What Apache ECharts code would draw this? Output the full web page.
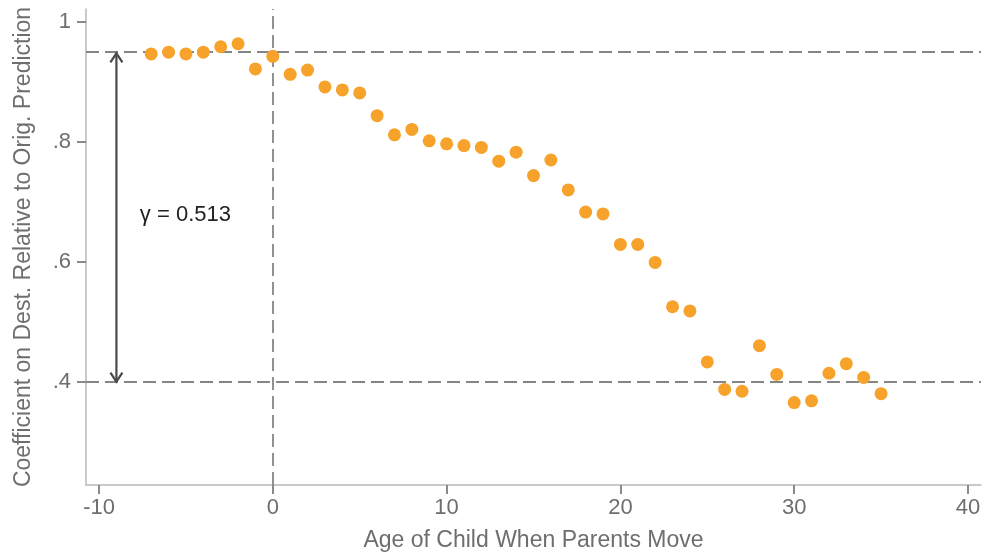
<!DOCTYPE html>
<html>
<head>
<meta charset="utf-8">
<script src="https://cdn.jsdelivr.net/npm/echarts@6/dist/echarts.min.js"></script>
<style>
html,body{margin:0;padding:0;background:#fff;}
#chart{width:984px;height:556px;}
</style>
</head>
<body>
<div id="chart"></div>
<script>
// ---- data ----
var ages = [-7,-6,-5,-4,-3,-2,-1,0,1,2,3,4,5,6,7,8,9,10,11,12,13,14,15,16,17,18,19,20,21,22,23,24,25,26,27,28,29,30,31,32,33,34,35];
var coefs = [0.947,0.950,0.947,0.950,0.959,0.964,0.922,0.943,0.913,0.920,0.892,0.887,0.882,0.844,0.812,0.821,0.802,0.797,0.794,0.791,0.768,0.783,0.744,0.770,0.720,0.683,0.680,0.629,0.629,0.599,0.525,0.518,0.433,0.387,0.384,0.460,0.412,0.365,0.368,0.414,0.430,0.407,0.380];
var xTicks = [-10, 0, 10, 20, 30, 40];
var yTicks = [0.4, 0.6, 0.8, 1.0];
var yTickLabels = ['.4', '.6', '.8', '1'];
var refYValues = [0.948, 0.4];
var refXValues = [0];
var arrowX = -9;
var arrowFrom = 0.4;
var arrowTo = 0.948;
var annotationText = 'γ = 0.513';
var annotationPos = [-7.65, 0.678];
var xTitle = 'Age of Child When Parents Move';
var yTitle = 'Coefficient on Dest. Relative to Orig. Prediction';

var X_MIN = -10.75, X_MAX = 40.75, Y_MIN = 0.2275, Y_MAX = 1.022;
var FONT = '"Liberation Sans", Arial, Helvetica, sans-serif';
var chart = echarts.init(document.getElementById('chart'), null, {renderer: 'canvas'});

var points = ages.map(function (a, i) { return [a, coefs[i]]; });

var markData = [];
refYValues.forEach(function (v) { markData.push({yAxis: v}); });
refXValues.forEach(function (v) { markData.push({xAxis: v}); });

var option = {
  animation: false,
  backgroundColor: '#ffffff',
  grid: {left: 86, right: 3, top: 9, bottom: 71, containLabel: false, outerBoundsMode: 'none'},
  xAxis: {
    type: 'value',
    min: X_MIN,
    max: X_MAX,
    name: xTitle,
    nameLocation: 'middle',
    nameGap: 44,
    nameTextStyle: {color: '#6e6e6e', fontSize: 23, fontFamily: FONT},
    axisLine: {show: true, onZero: false, lineStyle: {color: '#b8b8b8', width: 1.5}},
    axisTick: {show: true, inside: false, length: 9, customValues: xTicks, lineStyle: {color: '#8a8a8a', width: 2}},
    axisLabel: {show: true, margin: 12, customValues: xTicks, color: '#6e6e6e', fontSize: 22, fontFamily: FONT,
      formatter: function (v) { return String(v); }},
    splitLine: {show: false}
  },
  yAxis: {
    type: 'value',
    min: Y_MIN,
    max: Y_MAX,
    name: yTitle,
    nameLocation: 'middle',
    nameGap: 51,
    nameTextStyle: {color: '#6e6e6e', fontSize: 23, fontFamily: FONT},
    axisLine: {show: true, onZero: false, lineStyle: {color: '#b8b8b8', width: 1.5}},
    axisTick: {show: true, inside: false, length: 9, customValues: yTicks, lineStyle: {color: '#8a8a8a', width: 2}},
    axisLabel: {show: true, margin: 15, customValues: yTicks, color: '#6e6e6e', fontSize: 22, fontFamily: FONT,
      formatter: function (v) {
        for (var i = 0; i < yTicks.length; i++) { if (Math.abs(yTicks[i] - v) < 1e-6) return yTickLabels[i]; }
        return '';
      }},
    splitLine: {show: false}
  },
  series: [
    {
      type: 'scatter',
      data: points,
      symbol: 'circle',
      symbolSize: 13,
      itemStyle: {color: '#F6A22B', opacity: 1},
      silent: true,
      z: 5,
      markLine: {
        silent: true,
        symbol: ['none', 'none'],
        label: {show: false},
        lineStyle: {color: '#858585', width: 1.8, type: [13, 6]},
        data: markData,
        z: 2
      }
    },
    {
      type: 'custom',
      silent: true,
      z: 4,
      data: [[arrowX, arrowFrom, arrowTo]],
      renderItem: function (params, api) {
        var p1 = api.coord([api.value(0), api.value(1)]);
        var p2 = api.coord([api.value(0), api.value(2)]);
        var hw = 6, hh = 9;
        var style = {stroke: '#4a4a4a', lineWidth: 2.2, fill: null};
        return {
          type: 'group',
          children: [
            {type: 'line', shape: {x1: p1[0], y1: p1[1], x2: p2[0], y2: p2[1]}, style: style},
            {type: 'polyline', shape: {points: [[p2[0] - hw, p2[1] + hh], [p2[0], p2[1]], [p2[0] + hw, p2[1] + hh]]}, style: style},
            {type: 'polyline', shape: {points: [[p1[0] - hw, p1[1] - hh], [p1[0], p1[1]], [p1[0] + hw, p1[1] - hh]]}, style: style}
          ]
        };
      }
    },
    {
      type: 'custom',
      silent: true,
      z: 4,
      data: [annotationPos],
      renderItem: function (params, api) {
        var p = api.coord([api.value(0), api.value(1)]);
        return {
          type: 'text',
          x: p[0], y: p[1],
          style: {text: annotationText, fill: '#222222', font: '22px ' + FONT, textAlign: 'left', textVerticalAlign: 'middle'}
        };
      }
    }
  ]
};
chart.setOption(option);
</script>
</body>
</html>
